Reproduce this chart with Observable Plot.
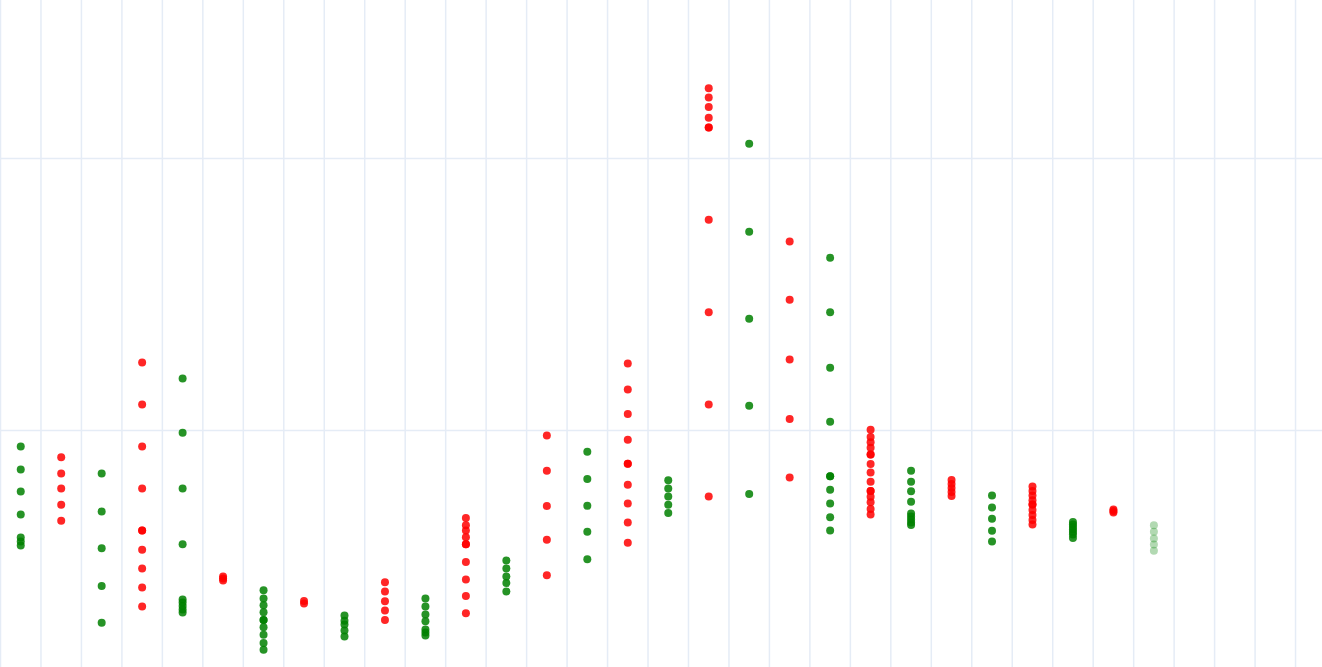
<!DOCTYPE html>
<html>
<head>
<meta charset="utf-8">
<script src="https://cdn.jsdelivr.net/npm/d3@7"></script>
<script src="https://cdn.jsdelivr.net/npm/@observablehq/plot@0.6"></script>
<style>
  html, body { margin: 0; padding: 0; background: #fff; overflow: hidden; }
  svg { display: block; }
</style>
</head>
<body>
<div id="chart"></div>
<script>
// Column categories (one per period)
const columns = d3.range(29);

// Direction of each column: up (green), down (red), pending (faded green)
const kinds = [
  "up","down","up","down","up","down","up","down","up","down",
  "up","down","up","down","up","down","up","down","up","down",
  "up","down","up","down","up","down","up","down","pending"
];

// Dot values per column
const values = [
  [94.1, 85.7, 77.6, 69.1, 60.7, 59.2, 57.7],
  [90.2, 84.2, 78.7, 72.7, 66.8],
  [84.2, 70.2, 56.7, 42.8, 29.3],
  [125.0, 109.6, 94.1, 78.7, 63.2, 63.2, 56.2, 49.3, 42.3, 35.3],
  [119.1, 99.2, 78.7, 58.2, 37.9, 36.8, 35.5, 34.2, 33.1],
  [46.3, 45.6, 44.9],
  [41.3, 38.2, 35.8, 33.2, 30.3, 30.3, 27.7, 24.9, 21.9, 19.4],
  [37.3, 36.4],
  [32.0, 30.1, 28.7, 26.5, 24.3],
  [44.2, 40.8, 37.2, 33.8, 30.3],
  [38.2, 35.3, 32.4, 29.9, 26.8, 25.7, 24.6],
  [67.8, 65.2, 63.2, 60.8, 58.2, 58.2, 51.7, 45.2, 39.2, 32.8],
  [52.2, 49.3, 46.3, 43.9, 40.8],
  [98.2, 85.2, 72.2, 59.8, 46.8],
  [92.2, 82.2, 72.3, 62.8, 52.7],
  [124.6, 115.1, 106.1, 96.6, 87.8, 87.8, 80.1, 73.2, 66.2, 58.7],
  [81.7, 78.7, 75.7, 72.7, 69.7],
  [225.8, 222.4, 218.9, 215.0, 211.4, 211.4, 177.5, 143.5, 109.6, 75.7],
  [205.4, 173.1, 141.1, 109.1, 76.7],
  [169.5, 148.1, 126.1, 104.2, 82.7],
  [163.5, 143.5, 123.1, 103.2, 83.2, 83.2, 78.2, 73.2, 68.1, 63.2],
  [100.3, 97.6, 95.7, 93.7, 91.2, 91.2, 87.7, 84.6, 81.2, 77.8, 77.8, 75.6, 73.6, 71.1, 69.1],
  [85.2, 81.2, 77.7, 73.8, 69.5, 68.4, 67.3, 66.2, 65.3],
  [81.8, 80.3, 78.9, 77.4, 75.9],
  [76.1, 71.7, 67.6, 63.1, 59.2],
  [79.4, 77.8, 76.1, 74.4, 72.8, 72.8, 70.8, 68.9, 67.1, 65.4],
  [66.4, 65.4, 64.5, 63.6, 62.7, 61.8, 60.5],
  [71.0, 70.4, 69.9],
  [65.2, 62.8, 60.3, 58.1, 55.8]
];

// Gridline values
const xTicks = d3.range(0, 33);
const yTicks = [100, 200];

const rows = columns.flatMap((c, i) => values[i].map(v => ({col: c, kind: kinds[i], v})));

const W = 1322, H = 667;
const colWidth = 40.47;

const chart = Plot.plot({
  width: W,
  height: H,
  margin: 0,
  x: {domain: [0, W / colWidth], axis: null},
  y: {domain: [12.87, 258.09], axis: null},
  color: {domain: ["up", "down", "pending"], range: ["#008000", "#ff0000", "#008000"]},
  marks: [
    Plot.ruleX(xTicks, {stroke: "#e5ecf6", strokeWidth: 1.5}),
    Plot.ruleY(yTicks, {stroke: "#e5ecf6", strokeWidth: 1.5}),
    Plot.dot(rows, {
      x: d => d.col + 0.5,
      y: "v",
      r: 4,
      fill: "kind",
      fillOpacity: d => d.kind === "pending" ? 0.3 : 0.85,
      stroke: "none"
    })
  ]
});
document.getElementById("chart").appendChild(chart);
</script>
</body>
</html>
